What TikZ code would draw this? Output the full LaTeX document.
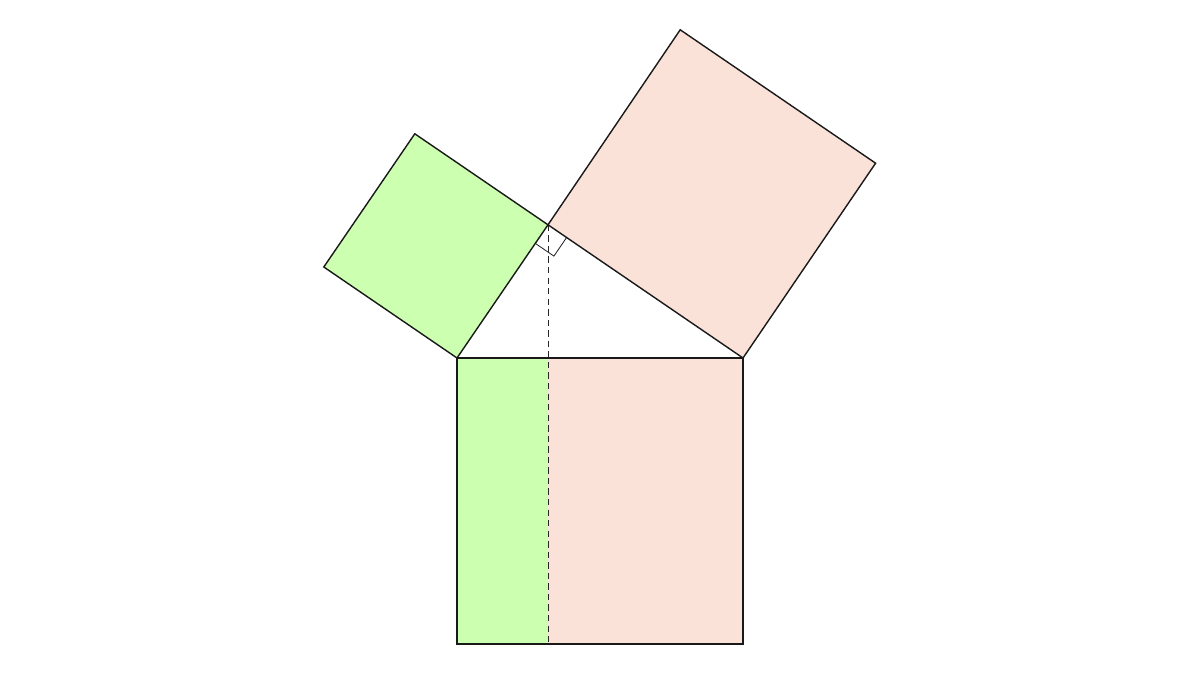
\documentclass[tikz,border=0pt]{standalone}
\begin{document}
\begin{tikzpicture}[x=0.025cm,y=-0.025cm,
  edge/.style={draw=black!90,line width=1pt,line join=miter},
  thin edge/.style={draw=black!85,line width=0.6pt}]
\definecolor{leggreen}{RGB}{204,255,176}
\definecolor{legpink}{RGB}{250,226,217}
\useasboundingbox (0,0) rectangle (1200,675);
% triangle vertices
\coordinate (A) at (457,358);
\coordinate (B) at (743,358);
\coordinate (C) at (548,224.8);
\coordinate (F) at (548,358);
% squares on the legs
\coordinate (G1) at (323.8,267);
\coordinate (G2) at (414.8,133.8);
\coordinate (P1) at (680.2,29.8);
\coordinate (P2) at (875.6,163.2);
% square on the hypotenuse
\coordinate (Q1) at (457,644);
\coordinate (Q2) at (743,644);
\coordinate (FQ) at (548,644);
% right-angle mark
\coordinate (M1) at (535.3,243.4);
\coordinate (M2) at (566.6,237.5);
\coordinate (M3) at (553.9,256.1);
% fills
\fill[leggreen] (A) -- (C) -- (G2) -- (G1) -- cycle;
\fill[legpink] (C) -- (B) -- (P2) -- (P1) -- cycle;
\fill[leggreen] (A) rectangle (FQ);
\fill[legpink] (F) rectangle (Q2);
% mark and altitude
\draw[thin edge] (M1) -- (M3) -- (M2);
\draw[thin edge,dash pattern=on 4.5pt off 3pt] (C) -- (FQ);
% outlines
\draw[edge] (A) -- (C) -- (G2) -- (G1) -- cycle;
\draw[edge] (C) -- (B) -- (P2) -- (P1) -- cycle;
\draw[edge] (A) -- (B) -- (Q2) -- (Q1) -- cycle;
\end{tikzpicture}
\end{document}
